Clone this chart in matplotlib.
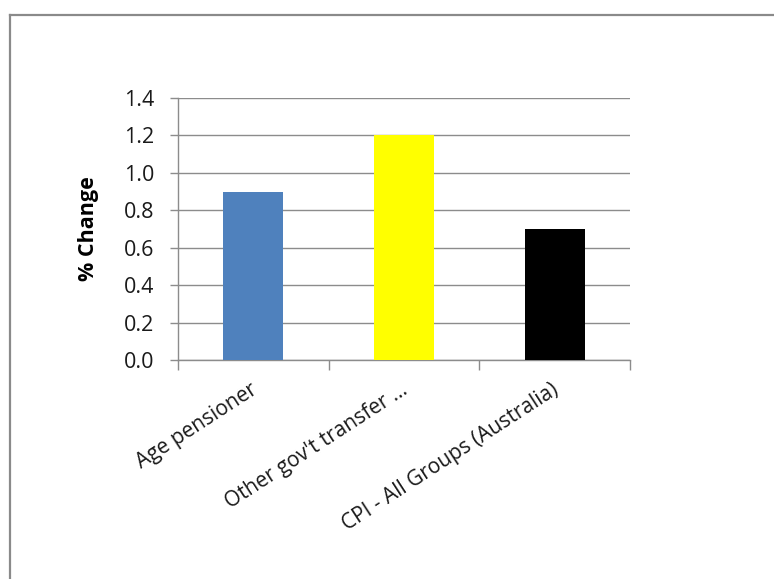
import matplotlib.pyplot as plt
import matplotlib.transforms as mtransforms
from matplotlib.lines import Line2D
import numpy as np

categories = ["Age pensioner", "Other gov't transfer ...", "CPI - All Groups (Australia)"]
values = [0.9, 1.2, 0.7]
colors = ["#4F81BD", "#FFFF00", "#000000"]
yticks = [0.0, 0.2, 0.4, 0.6, 0.8, 1.0, 1.2, 1.4]

plt.rcParams["font.family"] = ["Open Sans", "DejaVu Sans"]

W, H = 774, 579
fig = plt.figure(figsize=(W / 100, H / 100), dpi=100)
ax = fig.add_axes([178 / W, 1 - 360 / H, (630 - 178) / W, (360 - 98) / H])

x = np.arange(len(categories))
ax.bar(x, values, width=0.4, color=colors, zorder=3)

ax.set_xlim(-0.5, len(categories) - 0.5)
ax.set_ylim(0, 1.4)
ax.set_yticks(yticks)
ax.set_yticklabels([f"{v:.1f}" for v in yticks], fontsize=15.5, color="#1a1a1a")
ax.yaxis.grid(True, color="#8c8c8c", linewidth=1.0, zorder=0)

ax.set_xticks(x)
ax.set_xticklabels(categories, fontsize=15, rotation=33, ha="right", va="top",
                   rotation_mode="anchor", color="#1a1a1a")
ax.tick_params(axis="x", which="major", length=0, pad=12)
ax.set_xticks(np.arange(-0.5, len(categories), 1.0), minor=True)
ax.tick_params(axis="x", which="minor", length=7, color="#8c8c8c", width=1.0)
ax.tick_params(axis="y", length=6, color="#8c8c8c", width=1.0, pad=11)

# nudge the slanted category labels a little left and down
offset = mtransforms.ScaledTranslation(-4 / 100, -3 / 100, fig.dpi_scale_trans)
for lbl in ax.get_xticklabels():
    lbl.set_transform(lbl.get_transform() + offset)

for side in ["top", "right"]:
    ax.spines[side].set_visible(False)
for side in ["left", "bottom"]:
    ax.spines[side].set_color("#8c8c8c")
    ax.spines[side].set_linewidth(1.0)

ax.set_ylabel("% Change", fontsize=15.5, fontweight="bold", labelpad=18)

# chart area border (left and top edges)
fig.add_artist(Line2D([10 / W, 10 / W], [0, 1 - 15 / H], transform=fig.transFigure,
                      color="#8a8a8a", linewidth=1.6))
fig.add_artist(Line2D([10 / W, 1], [1 - 15 / H, 1 - 15 / H], transform=fig.transFigure,
                      color="#8a8a8a", linewidth=1.6))

fig.savefig("out.png", dpi=100)
